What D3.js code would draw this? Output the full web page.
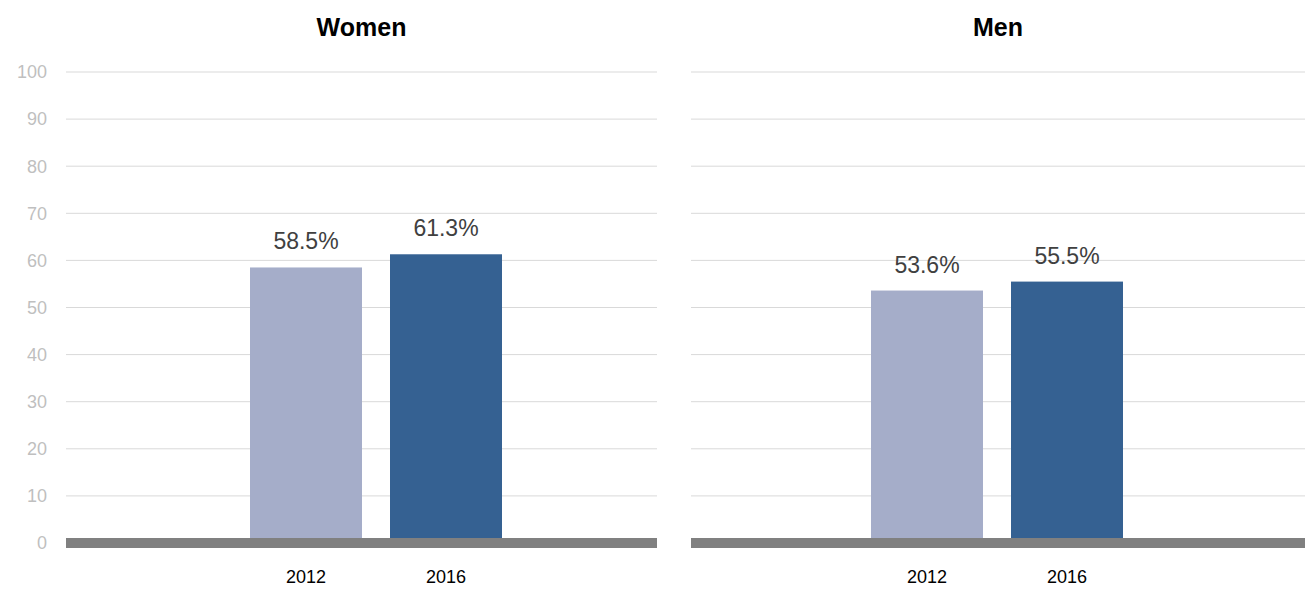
<!DOCTYPE html>
<html><head><meta charset="utf-8">
<script src="https://cdn.jsdelivr.net/npm/d3@7"></script>
<style>body{margin:0;background:#fff}</style>
</head><body>
<script>
const panels = ["Women", "Men"];
const years = ["2012", "2016"];
const values = [[58.5, 61.3], [53.6, 55.5]];
const yTicks = [0, 10, 20, 30, 40, 50, 60, 70, 80, 90, 100];
const colors = ["#a5adc9", "#356192"];

const W = 1307, H = 593;
const svg = d3.select("body").append("svg").attr("width", W).attr("height", H)
  .style("font-family", "Liberation Sans, Arial, sans-serif");

const y = d3.scaleLinear().domain([0, 100]).range([543, 72]);
const panelX = [[66, 657], [691, 1305]];
const barOffset = [184, 180];

// y axis labels (left only)
svg.selectAll("text.yt").data(yTicks).join("text")
  .attr("x", 47).attr("y", d => y(d)).attr("dy", "0.35em")
  .attr("text-anchor", "end").attr("font-size", 18).attr("fill", "#bfbfbf")
  .text(d => d);

panels.forEach((name, i) => {
  const [x0, x1] = panelX[i];
  const g = svg.append("g");
  g.selectAll("line").data(yTicks.slice(1)).join("line")
    .attr("x1", x0).attr("x2", x1).attr("y1", d => y(d)).attr("y2", d => y(d))
    .attr("stroke", "#d9d9d9").attr("stroke-width", 1);

  const x = d3.scaleBand().domain(years)
    .range([x0 + barOffset[i], x0 + barOffset[i] + 252]).paddingInner(28 / 140);

  g.selectAll("rect.bar").data(values[i]).join("rect")
    .attr("x", (d, j) => x(years[j])).attr("width", x.bandwidth())
    .attr("y", d => y(d)).attr("height", d => y(0) - y(d))
    .attr("fill", (d, j) => colors[j]);

  g.selectAll("text.val").data(values[i]).join("text")
    .attr("x", (d, j) => x(years[j]) + x.bandwidth() / 2).attr("y", d => y(d) - 18)
    .attr("text-anchor", "middle").attr("font-size", 23).attr("fill", "#404040")
    .text(d => d.toFixed(1) + "%");

  g.append("rect").attr("x", x0).attr("width", x1 - x0)
    .attr("y", y(0) - 5).attr("height", 10).attr("fill", "#808080");

  g.selectAll("text.yr").data(years).join("text")
    .attr("x", d => x(d) + x.bandwidth() / 2).attr("y", 583)
    .attr("text-anchor", "middle").attr("font-size", 18).attr("fill", "#000")
    .text(d => d);

  g.append("text").attr("x", (x0 + x1) / 2).attr("y", 36)
    .attr("text-anchor", "middle").attr("font-size", 25).attr("font-weight", "bold")
    .text(name);
});
</script>
</body></html>
